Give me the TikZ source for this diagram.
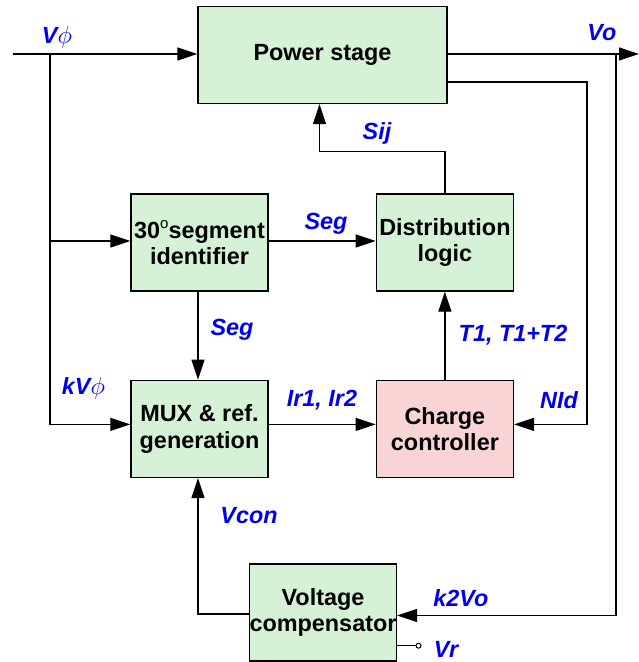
\documentclass[tikz,border=0pt]{standalone}
\usepackage{fontspec}
\setmainfont{Liberation Sans}
\usepackage{xcolor}
\usepackage{tikz}
\usetikzlibrary{arrows.meta,positioning,calc}

\definecolor{blockgreen}{RGB}{214,242,214}
\definecolor{blockpink}{RGB}{248,212,212}
\definecolor{sigblue}{RGB}{0,0,235}

\begin{document}
\begin{tikzpicture}[x=1pt,y=1pt,node distance=88pt and 107pt,line width=1.2pt,
  >={Triangle[length=20pt,width=13pt]},
  block/.style={draw,line width=1.4pt,fill=blockgreen,minimum width=137pt,minimum height=97pt,
    inner sep=0pt,align=center,font=\fontsize{23.4}{26.5}\selectfont\bfseries},
  sig/.style={text=sigblue,inner sep=0pt,font=\fontsize{23.4}{26}\selectfont\bfseries\itshape},
  terminal/.style={draw,circle,fill=white,line width=1pt,inner sep=0pt,minimum size=5pt}]
  \useasboundingbox (0,0) rectangle (639,662);
  % blocks
  \node[block,minimum width=249pt] (power) at (322.5,607) {Power stage};
  \node[block] (seg) at (199.5,419.5) {30\raisebox{10pt}{\fontsize{15}{15}\selectfont\mdseries o}segment\\identifier};
  \node[block,right=of seg] (dist) {Distribution\\logic};
  \node[block,below=of seg] (mux) {MUX \& ref.\\generation};
  \node[block,fill=blockpink,below=of dist] (charge) {Charge\\controller};
  \node[block,minimum width=138pt] (comp) at (323,49.5) {Voltage\\compensator};
  % free ends
  \coordinate (in) at (13,608);
  \coordinate (out) at (639,608);
  \coordinate (tap) at (50,608);
  \coordinate (fb) at (587,580);
  \coordinate (vo) at (616,608);
  \node[terminal] (vrpin) at (418.5,16.3) {};
  % connectors
  \draw[->] (in) -- (in -| power.west);
  \draw[->] (out -| power.east) -- (out);
  \draw[->] (tap) |- ([yshift=4.5pt]mux.west);
  \draw[->] (tap |- seg.west) ++(0,1.5) -- ([yshift=1.5pt]seg.west);
  \draw[->] ([yshift=1.5pt]seg.east) -- ([yshift=1.5pt]dist.west);
  \draw[->] ([xshift=-1.5pt]seg.south) -- ([xshift=-1.5pt]mux.north);
  \draw[->] (dist.north) -- ++(0,42) -| ([xshift=-3pt]power.south);
  \draw[->] (charge.north) -- (dist.south);
  \draw[->] ([yshift=4.5pt]mux.east) -- ([yshift=4.5pt]charge.west);
  \draw[->] (power.east |- fb) -- (fb) |- ([yshift=4.5pt]charge.east);
  \draw[->] (vo) |- ([yshift=-3pt]comp.east);
  \draw[->] ([yshift=-1.5pt]comp.west) -| ([xshift=-1.5pt]mux.south);
  \draw ([yshift=-33.2pt]comp.east) -- (vrpin.west);
  % signal names
  \node[sig] (lvin) at (57,625) {V$\phi$};
  \node[sig] (lvo) at (602,629) {Vo};
  \node[sig] (lsij) at (377,529) {Sij};
  \node[sig] (lsega) at (326,438) {Seg};
  \node[sig] (lsegb) at (232,332) {Seg};
  \node[sig] (lt) at (513,327) {T1, T1+T2};
  \node[sig] (lkv) at (83.5,274) {kV$\phi$};
  \node[sig] (lir) at (322,262) {Ir1, Ir2};
  \node[sig] (lnid) at (559,262) {NId};
  \node[sig] (lvcon) at (249,146) {Vcon};
  \node[sig] (lk2) at (461,64) {k2Vo};
  \node[sig] (lvr) at (446,13) {Vr};
\end{tikzpicture}
\end{document}
